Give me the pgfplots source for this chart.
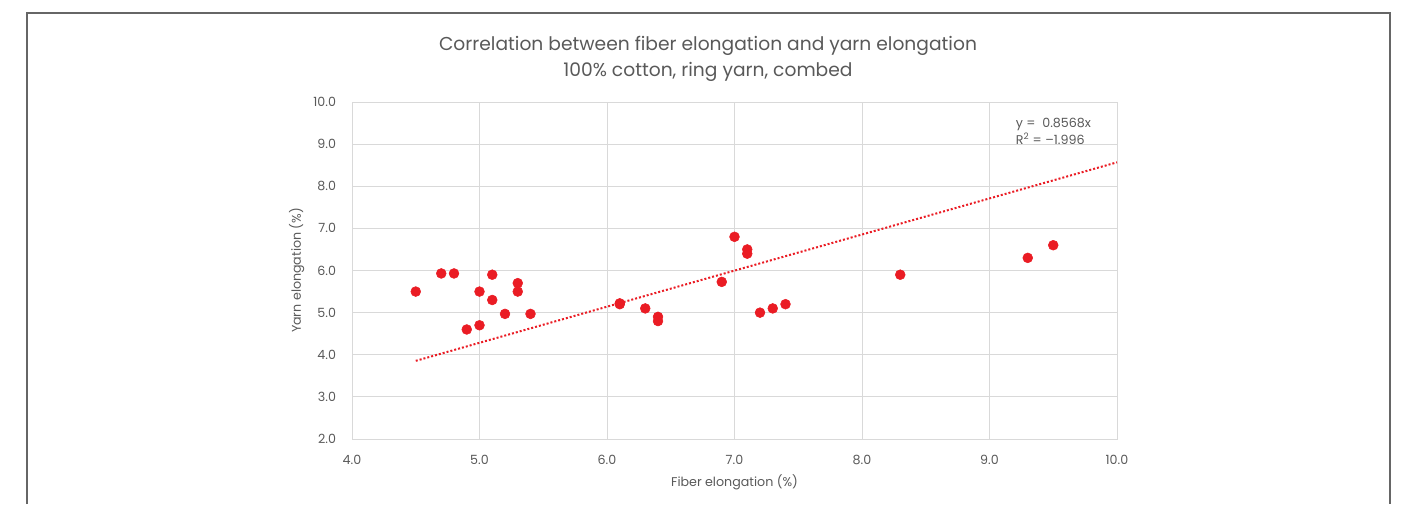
\documentclass[border=0pt]{standalone}
\usepackage{fontspec}
\setmainfont{Poppins}
\usepackage{pgfplots}
\pgfplotsset{compat=1.18}
\definecolor{txt}{HTML}{595959}
\definecolor{gridc}{HTML}{D9D9D9}
\definecolor{ptc}{HTML}{EA1C24}
\begin{document}
\begin{tikzpicture}
\path (0,0) rectangle (1052.25pt,378pt);
\draw[color=gray!80!black, line width=1pt] (20.25pt,0pt) -- (20.25pt,368.25pt) -- (1042.5pt,368.25pt) -- (1042.5pt,0pt);
\node[font=\fontsize{14}{19.5}\selectfont, text=txt, align=center] at (531pt,333.5pt) {Correlation between fiber elongation and yarn elongation\\100\% cotton, ring yarn, combed};
\begin{axis}[
  at={(264pt,48.75pt)}, anchor=south west,
  scale only axis, width=573.75pt, height=252.75pt,
  xmin=4, xmax=10, ymin=2, ymax=10,
  xtick={4,5,...,10}, ytick={2,3,...,10},
  grid=major, major grid style={gridc, line width=0.75pt},
  axis line style={gridc, line width=0.75pt},
  tick style={draw=none},
  ticklabel style={font=\fontsize{9.5}{11}\selectfont, text=txt},
  yticklabel style={xshift=-8.5pt},
  xticklabel style={yshift=-8.5pt},
  /pgf/number format/.cd, fixed, fixed zerofill, precision=1, assume math mode=true,
  /pgfplots/.cd,
  xlabel={Fiber elongation (\%)}, ylabel={Yarn elongation (\%)},
  label style={font=\fontsize{9.5}{11}\selectfont, text=txt},
  xlabel style={yshift=-1pt},
  ylabel style={yshift=0pt},
  clip=false,
]
\addplot[only marks, mark=*, mark size=3.7pt, mark options={fill=ptc, draw=ptc}] coordinates {
(4.5,5.5) (4.7,5.93) (4.8,5.93) (4.9,4.6) (5.0,5.5) (5.0,4.7) (5.1,5.9) (5.1,5.3)
(5.2,4.97) (5.3,5.7) (5.3,5.5) (5.4,4.97) (6.1,5.2) (6.1,5.22) (6.3,5.1) (6.4,4.9) (6.4,4.8)
(6.9,5.73) (7.0,6.8) (7.1,6.5) (7.1,6.4) (7.2,5.0) (7.3,5.1) (7.4,5.2) (8.3,5.9) (9.3,6.3) (9.5,6.6)
};
\addplot[ptc, line width=1.5pt, dash pattern=on 1.5pt off 1.5pt] coordinates {(4.5,3.8556) (10,8.568)};
\node[font=\fontsize{9.5}{12.75}\selectfont, text=txt, align=left, anchor=north west] at (axis cs:9.17,9.72) {y =\ \ 0.8568x\\R\textsuperscript{2} = \textendash1.996};
\end{axis}
\end{tikzpicture}
\end{document}
